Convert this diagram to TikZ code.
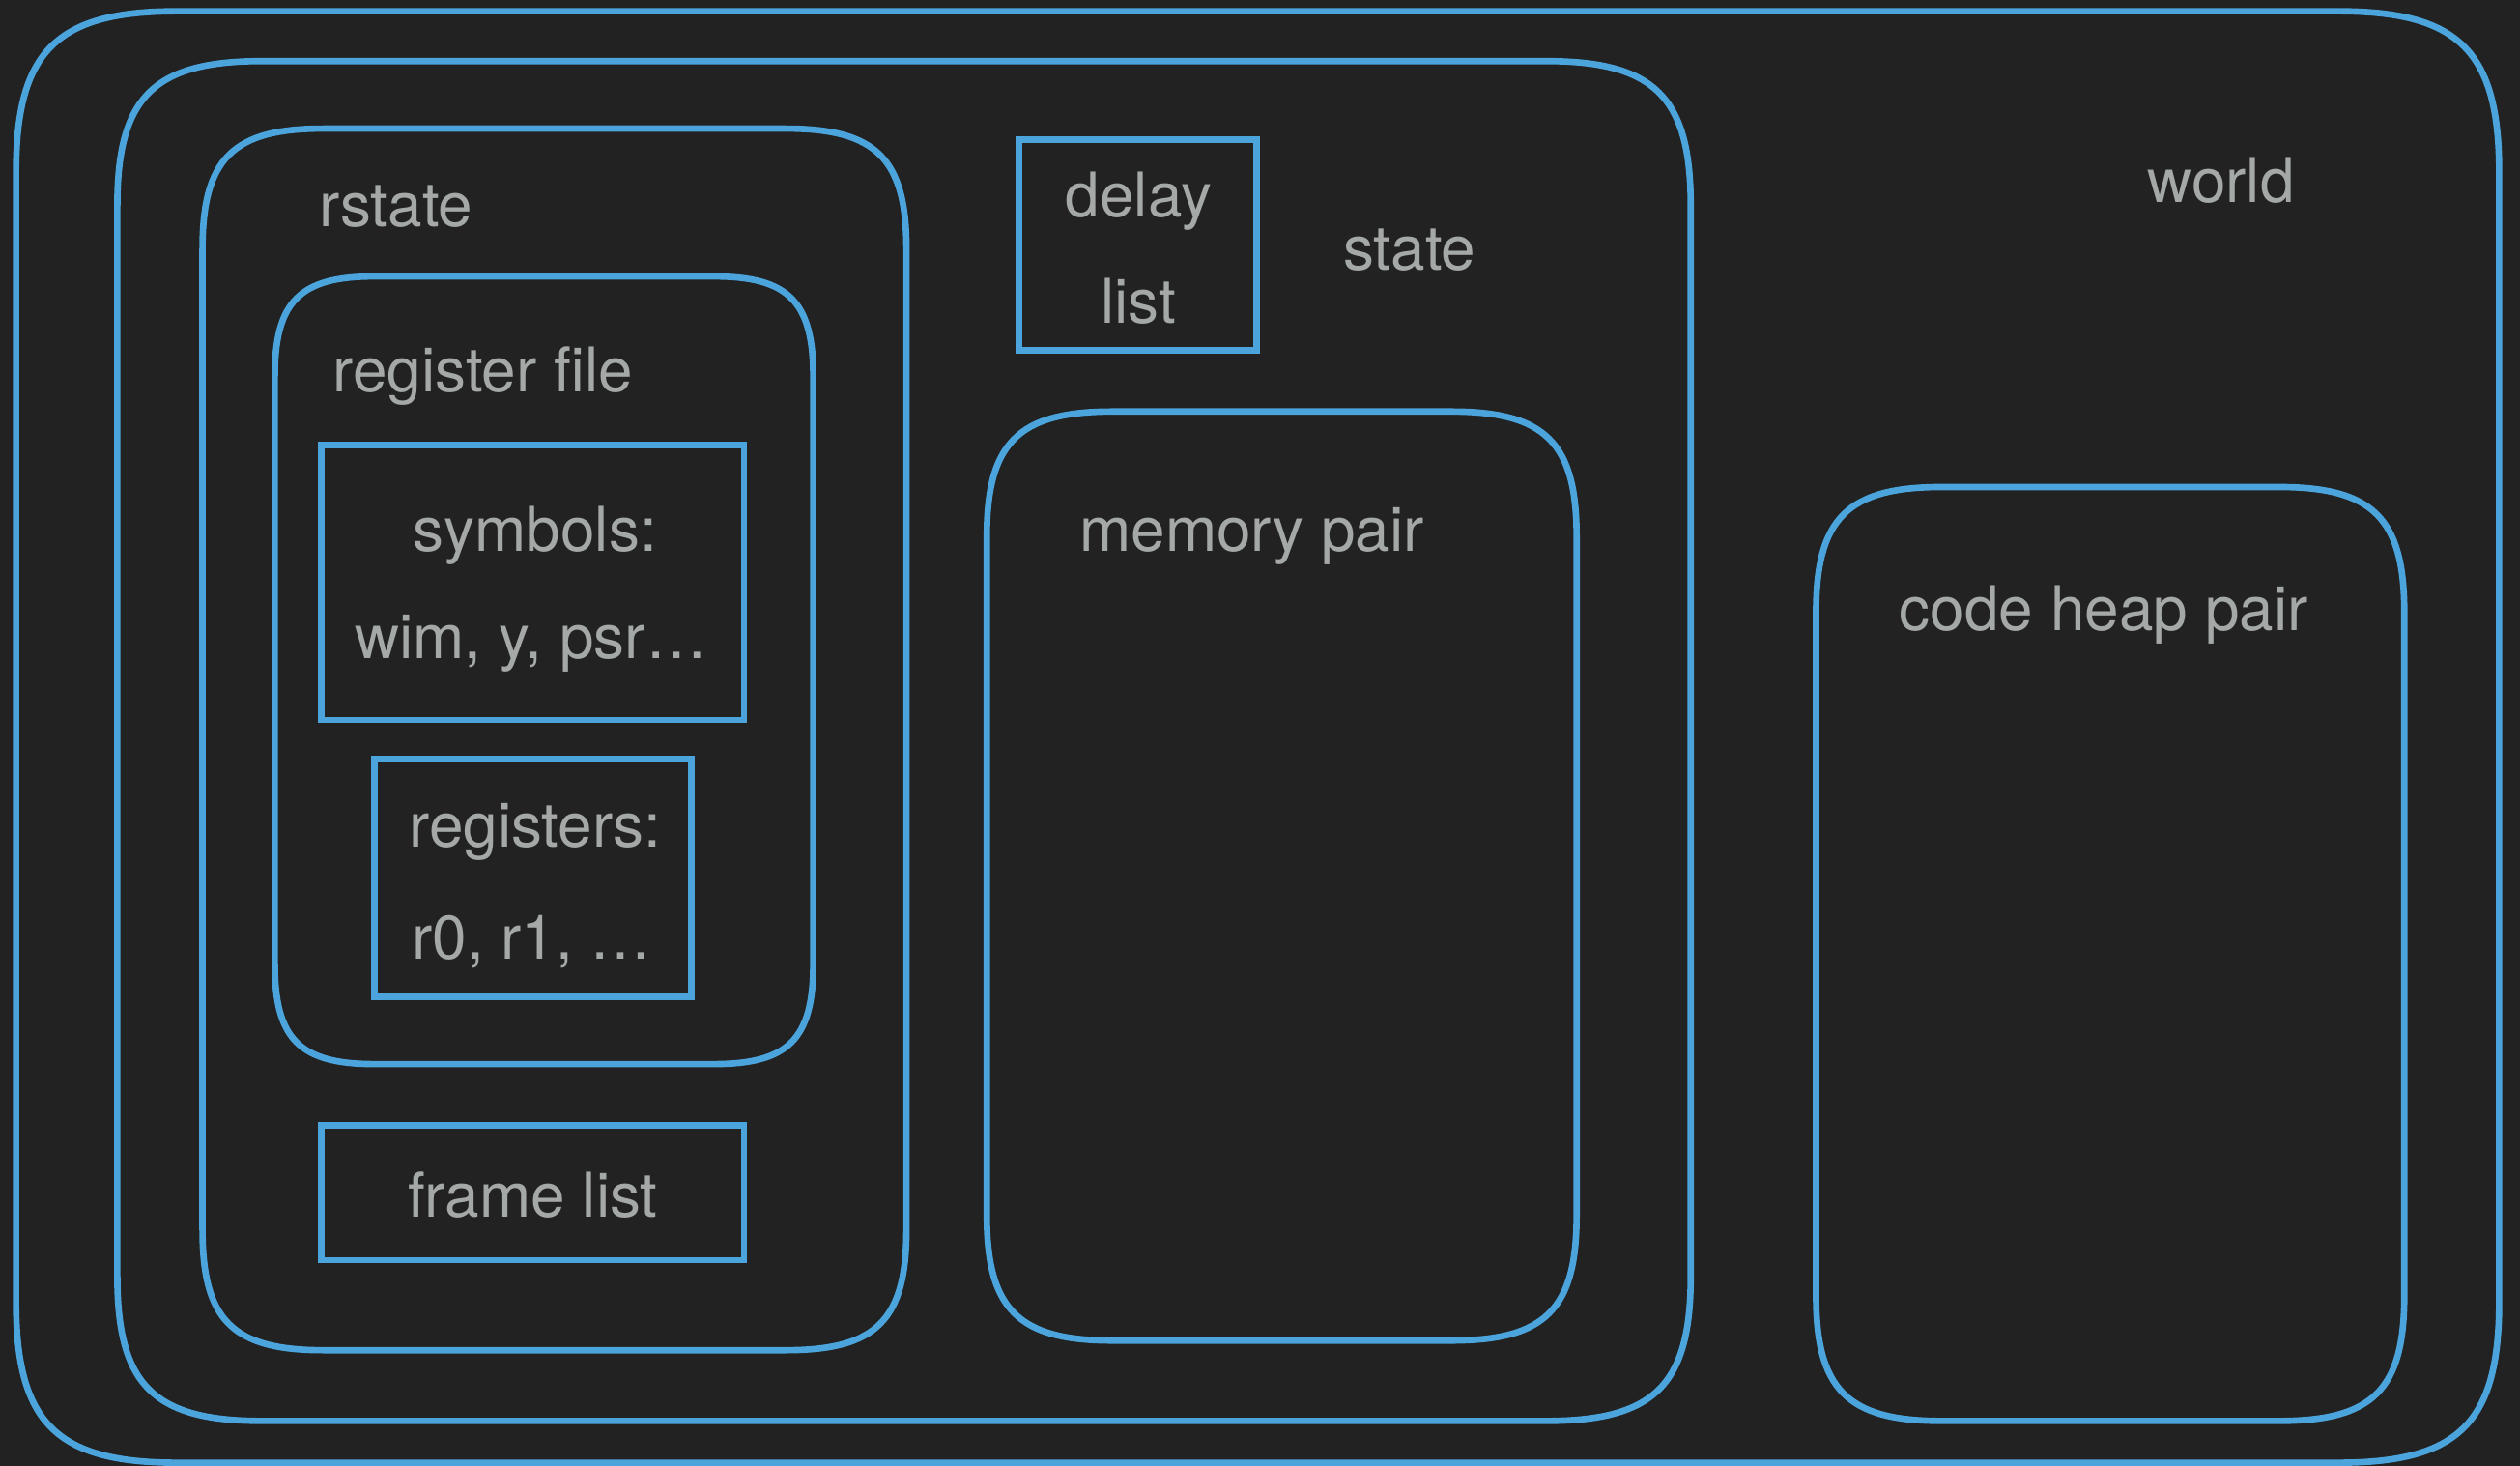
\documentclass[tikz,border=0pt]{standalone}
\usepackage{fontspec}
\setmainfont{TeX Gyre Heros}
\definecolor{bgdark}{HTML}{222222}
\definecolor{edgeblue}{HTML}{4BA4DB}
\definecolor{labelgrey}{RGB}{164,168,167}
\tikzset{
  frameline/.style={draw=edgeblue, line width=2pt},
  cell/.style={draw=edgeblue, line width=2pt, inner sep=0pt, rectangle},
  lbl/.style={text=labelgrey, inner sep=0pt, anchor=base,
              font=\fontsize{19.2}{23}\selectfont},
}
% rounded frame with smooth (squircle-like) corners:
% #1 left, #2 top, #3 right, #4 bottom, #5 corner size
\newcommand\softframe[5]{%
  \draw[frameline] (#1+#5,#2) -- (#3-#5,#2)
    .. controls (#3-0.25*#5,#2) and (#3,#2+0.25*#5) .. (#3,#2+#5)
    -- (#3,#4-#5)
    .. controls (#3,#4-0.25*#5) and (#3-0.25*#5,#4) .. (#3-#5,#4)
    -- (#1+#5,#4)
    .. controls (#1+0.25*#5,#4) and (#1,#4-0.25*#5) .. (#1,#4-#5)
    -- (#1,#2+#5)
    .. controls (#1,#2+0.25*#5) and (#1+0.25*#5,#2) .. (#1+#5,#2) -- cycle;}
\begin{document}
\begin{tikzpicture}[x=0.5pt,y=-0.5pt]
  \fill[bgdark] (0,0) rectangle (1568,912);
  \useasboundingbox (0,0) rectangle (1568,912);

  % nested containers
  \softframe{10}{7}{1555}{910}{100}    % world
  \softframe{73}{38}{1052}{884}{90}    % state
  \softframe{126}{80}{564}{840}{75}    % rstate
  \softframe{171}{172}{506}{662}{62}   % register file
  \softframe{614}{256}{981}{834}{78}   % memory pair
  \softframe{1130}{303}{1496}{884}{78} % code heap pair

  % plain boxes
  \node[cell, minimum width=131.5pt, minimum height=85.5pt] (symbols) at (331.5,362.5) {};
  \node[cell, minimum width=98.5pt, minimum height=74pt] (registers) at (331.5,546) {};
  \node[cell, minimum width=131.5pt, minimum height=42pt] (framelist) at (331.5,742) {};
  \node[cell, minimum width=74pt, minimum height=65.5pt] (delaylist) at (708,152.5) {};

  % labels
  \node[lbl] (tworld) at (1382,126) {world};
  \node[lbl] (tstate) at (877,168) {state};
  \node[lbl] (trstate) at (246.5,141) {rstate};
  \node[lbl] (tregfile) at (300.5,244) {register file};
  \node[lbl] (tsym1) at (333,343) {symbols:};
  \node[lbl] (tsym2) at (330.5,410) {wim, y, psr…};
  \node[lbl] (treg1) at (333,527) {registers:};
  \node[lbl] (treg2) at (331,597) {r0, r1, …};
  \node[lbl] (tframe) at (331.5,757) {frame list};
  \node[lbl] (tdelay1) at (708.5,135) {delay};
  \node[lbl] (tdelay2) at (708.5,201) {list};
  \node[lbl] (tmem) at (779,343) {memory pair};
  \node[lbl] (tcode) at (1309,392) {code heap pair};
\end{tikzpicture}
\end{document}
